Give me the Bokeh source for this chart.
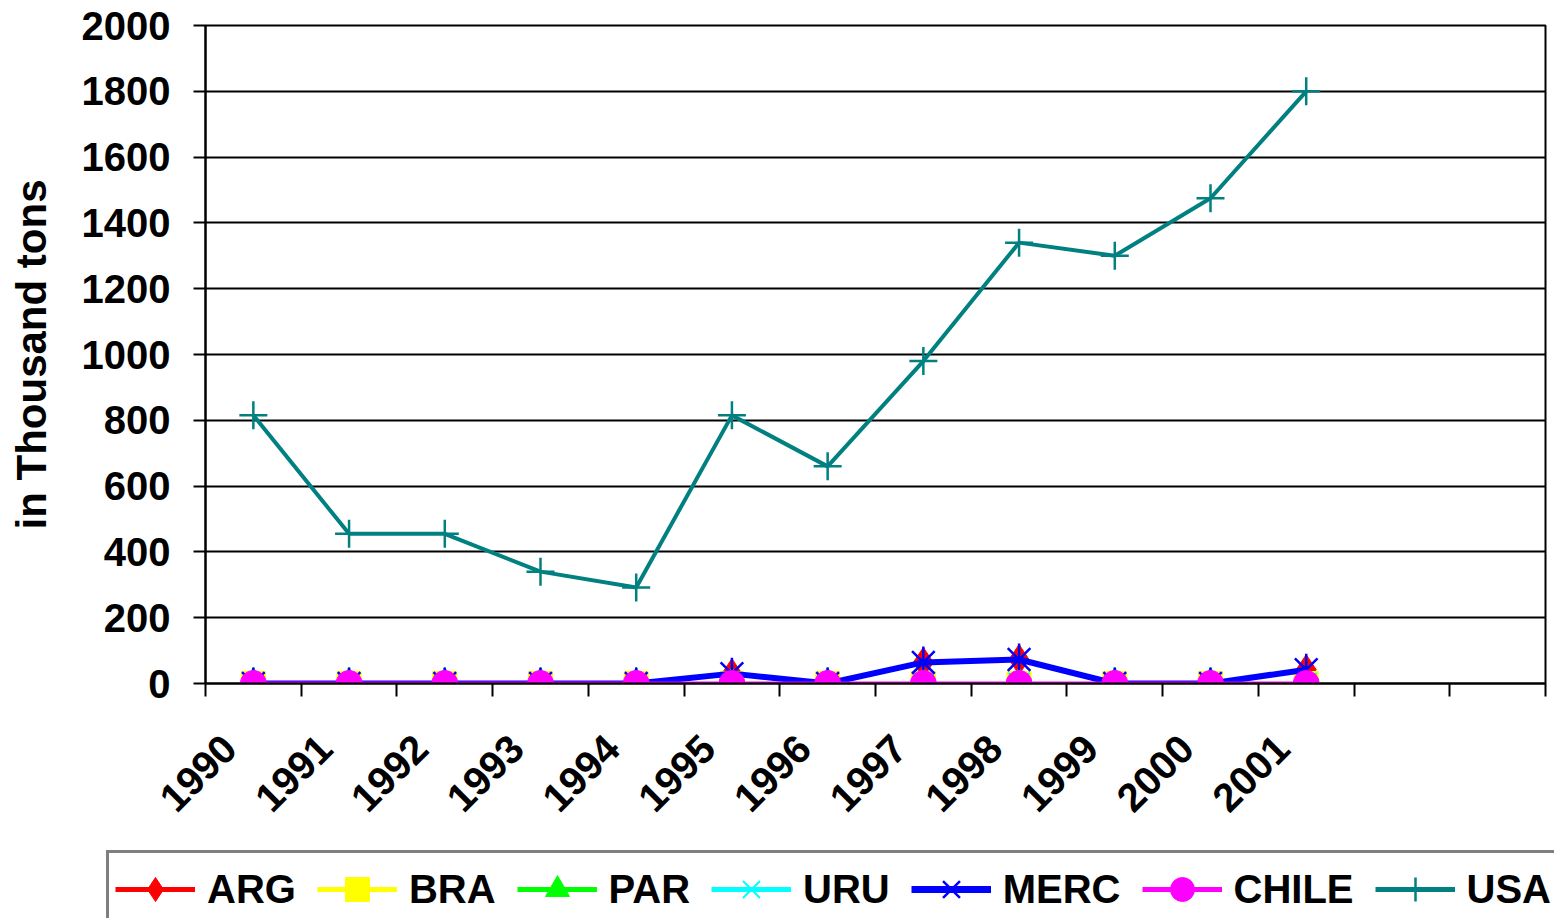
from math import pi
from bokeh.plotting import figure
from bokeh.models import FixedTicker, Legend, LegendItem, Range1d
from bokeh.embed import file_html
from bokeh.resources import INLINE

years = ["1990", "1991", "1992", "1993", "1994", "1995", "1996",
         "1997", "1998", "1999", "2000", "2001"]
n_slots = 14  # category slots on the axis (two trailing empty ones)

arg = [0, 0, 0, 0, 0, 30, 0, 64, 73, 0, 0, 42]
bra = [0, 0, 0, 0, 0, 0, 0, 0, 0, 0, 0, 0]
par = [0, 0, 0, 0, 0, 0, 0, 0, 0, 0, 0, 0]
uru = [0, 0, 0, 0, 0, 0, 0, 0, 0, 0, 0, 0]
merc = [0, 0, 0, 0, 0, 30, 0, 64, 73, 0, 0, 42]
chile = [0, 0, 0, 0, 0, 0, 0, 0, 0, 0, 0, 0]
usa = [815, 455, 455, 340, 292, 815, 660, 980, 1340, 1300, 1475, 1800]

y_ticks = [0, 200, 400, 600, 800, 1000, 1200, 1400, 1600, 1800, 2000]

FONT = "Liberation Sans"

xs = [i + 0.5 for i in range(len(years))]
label_pos = [x - 0.25 for x in xs]

p = figure(width=1550, height=850, output_backend="svg", toolbar_location=None,
           x_range=Range1d(0, n_slots), y_range=Range1d(0, 2000),
           min_border_left=205, min_border_right=5, min_border_top=25,
           min_border_bottom=167)
p.background_fill_color = "white"
p.border_fill_color = "white"
p.outline_line_color = "black"
p.outline_line_width = 2

# x axis
xa = p.xaxis[0]
xa.ticker = FixedTicker(ticks=label_pos, minor_ticks=list(range(n_slots + 1)))
xa.major_label_overrides = {x: y for x, y in zip(label_pos, years)}
xa.major_tick_out = 0
xa.major_tick_in = 0
xa.minor_tick_out = 13
xa.minor_tick_in = 0
xa.minor_tick_line_color = "black"
xa.minor_tick_line_width = 2
xa.axis_line_width = 2
xa.axis_line_color = "black"
xa.major_label_orientation = pi / 4
xa.major_label_text_font = FONT
xa.major_label_text_font_style = "bold"
xa.major_label_text_font_size = "40px"
xa.major_label_text_color = "black"
xa.major_label_standoff = 45

# y axis
ya = p.yaxis[0]
ya.ticker = FixedTicker(ticks=y_ticks)
ya.major_tick_out = 12
ya.major_tick_in = 0
ya.minor_tick_out = 0
ya.minor_tick_in = 0
ya.major_tick_line_width = 2
ya.axis_line_width = 2
ya.axis_line_color = "black"
ya.major_label_text_font = FONT
ya.major_label_text_font_style = "bold"
ya.major_label_text_font_size = "40px"
ya.major_label_text_color = "black"
ya.major_label_standoff = 23
ya.axis_label = "in Thousand tons"
ya.axis_label_text_font = FONT
ya.axis_label_text_font_style = "bold"
ya.axis_label_text_font_size = "42px"
ya.axis_label_text_color = "black"
ya.axis_label_standoff = 24

p.xgrid.visible = False
p.ygrid.grid_line_color = "black"
p.ygrid.grid_line_width = 2
p.ygrid.ticker = FixedTicker(ticks=y_ticks)

# legend figure (below the chart), a separate root so its frame spans the width
p2 = figure(width=1554, height=68, output_backend="svg", toolbar_location=None,
            x_axis_type=None, y_axis_type=None, x_range=Range1d(0, 1),
            y_range=Range1d(0, 1), min_border=0)
p2.outline_line_color = None
p2.grid.visible = False
p2.background_fill_color = "white"
p2.border_fill_color = "white"

items = []
off = [-100]  # legend-only renderers sit outside the legend figure's ranges


def series(label, vals, color, lw, leg_lw, markers):
    leg = [p2.line(off, off, line_color=color, line_width=leg_lw)]
    p.line(xs, vals, line_color=color, line_width=lw)
    for kind, size, kw in markers:
        p.scatter(xs, vals, marker=kind, size=size, **kw)
        leg.append(p2.scatter(off, off, marker=kind, size=size, **kw))
    items.append(LegendItem(label=label, renderers=leg))


series("ARG", arg, "#FF0000", 3, 5,
       [("diamond", 30, dict(fill_color="#FF0000", line_color="#FF0000"))])
series("BRA", bra, "#FFFF00", 3, 5,
       [("square", 24, dict(fill_color="#FFFF00", line_color="#FFFF00"))])
series("PAR", par, "#00FF00", 3, 5,
       [("triangle", 28, dict(fill_color="#00FF00", line_color="#00FF00"))])
series("URU", uru, "#00FFFF", 3, 5,
       [("x", 30, dict(line_color="#00FFFF", line_width=2)),
        ("dash", 30, dict(line_color="#00FFFF", line_width=2, angle=pi / 2))])
series("MERC", merc, "#0000FF", 6, 7,
       [("x", 32, dict(line_color="#0000FF", line_width=2.5)),
        ("dash", 32, dict(line_color="#0000FF", line_width=2.5, angle=pi / 2))])
series("CHILE", chile, "#FF00FF", 4, 5,
       [("circle", 26, dict(fill_color="#FF00FF", line_color="#FF00FF"))])
series("USA", usa, "#008080", 4, 5,
       [("cross", 28, dict(line_color="#008080", line_width=2.5))])

legend = Legend(items=items, orientation="horizontal", location=(106, -10))
legend.glyph_width = 80
legend.glyph_height = 60
legend.padding = 6
legend.spacing = 21
legend.label_standoff = 12
legend.margin = 0
legend.border_line_color = "black"
legend.border_line_width = 3
legend.background_fill_color = "white"
legend.background_fill_alpha = 1
legend.label_text_font = FONT
legend.label_text_font_style = "bold"
legend.label_text_font_size = "40px"
legend.label_text_color = "black"
p2.add_layout(legend, "center")

open("out.html", "w").write(file_html([p, p2], INLINE))
